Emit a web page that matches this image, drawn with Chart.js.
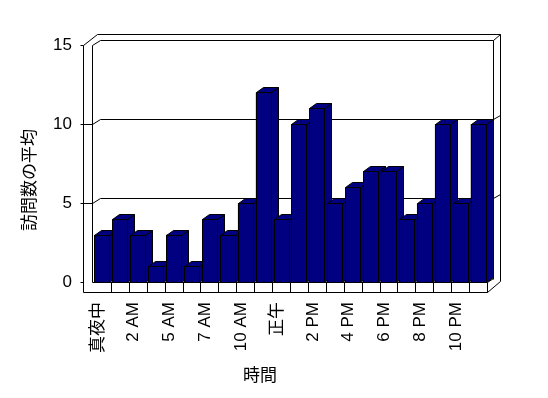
<!DOCTYPE html>
<html><head><meta charset="utf-8">
<script src="https://cdn.jsdelivr.net/npm/chart.js@4"></script>
<style>html,body{margin:0;padding:0;background:#fff}#wrap{width:548px;height:398px}</style>
</head><body><div id="wrap"><canvas id="c" width="548" height="398"></canvas></div>
<script>
const categories = ['真夜中','1 AM','2 AM','4 AM','5 AM','6 AM','7 AM','9 AM','10 AM','11 AM','正午','1 PM','2 PM','3 PM','4 PM','5 PM','6 PM','7 PM','8 PM','9 PM','10 PM','11 PM'];
const visits = [3,4,3,1,3,1,4,3,5,12,4,10,11,5,6,7,7,4,5,10,5,10];
const yTicks = [0,5,10,15];
const yTitle = '訪問数の平均';
const xTitle = '時間';

const FONT = '"Liberation Sans", Arial, "Noto Sans CJK JP", sans-serif';
const DX = 7, DY = -5;

const frame3d = {
  id: 'frame3d',
  beforeDatasetsDraw(chart) {
    const ctx = chart.ctx, a = chart.chartArea, ys = chart.scales.y, xs = chart.scales.x;
    const L = Math.round(a.left), R = Math.round(a.right), T = Math.round(a.top), B = Math.round(a.bottom);
    ctx.save();
    ctx.strokeStyle = '#000'; ctx.lineWidth = 1;
    const line = (x1,y1,x2,y2)=>{ctx.beginPath();ctx.moveTo(x1+0.5,y1+0.5);ctx.lineTo(x2+0.5,y2+0.5);ctx.stroke();};
    // walls
    line(L-10, T, L-10, B+10);   // outer left
    line(L-1, T, L-1, B);        // inner left
    line(L-10, T, L+4, T-11);
    line(L-1, T, L+7, T-5);
    line(L+4, T-11, R+13, T-11); // outer top
    line(L+7, T-5, R+6, T-5);    // inner top
    line(R+6, T-5, R+13, T-11);
    line(R+13, T-11, R+13, B-1); // outer right
    line(R+6, T-5, R+6, B-3);    // inner right
    // gridlines on back wall
    yTicks.forEach(v => {
      if (v === 0 || v === 15) return;
      const y = Math.round(ys.getPixelForValue(v));
      line(L-13, y, L-1, y);
      line(L-1, y, L+7, y-5);
      line(L+7, y-5, R+6, y-5);
      line(R+6, y-5, R+13, y-9);
    });
    // tick marks at front
    [0,15].forEach(v => { const y = Math.round(ys.getPixelForValue(v)); line(L-13, y, L-10, y); });
    // floor
    line(L-10, B+10, R, B+10);
    line(L-1, B, R, B);
    line(R, B, R, B+10);
    line(R, B+10, R+13, B-1);
    line(R, B, R+6, B-4);
    for (let i = 1; i < categories.length; i++) {
      const x = Math.round((xs.getPixelForValue(i-1) + xs.getPixelForValue(i)) / 2);
      line(x, B, x, B+10);
    }
    ctx.restore();
  },
  afterDatasetsDraw(chart) {
    const ctx = chart.ctx;
    const meta = chart.getDatasetMeta(0);
    ctx.save();
    ctx.strokeStyle = '#000'; ctx.lineWidth = 1; ctx.fillStyle = '#000080';
    meta.data.forEach(bar => {
      const p = bar.getProps(['x','y','base','width'], true);
      const l = Math.round(p.x - p.width/2) + 0.5, r = Math.round(p.x + p.width/2) + 0.5;
      const t = Math.round(p.y) + 0.5, b = Math.round(p.base) + 0.5;
      const poly = pts => { ctx.beginPath(); ctx.moveTo(pts[0][0], pts[0][1]); for (let k=1;k<pts.length;k++) ctx.lineTo(pts[k][0], pts[k][1]); ctx.closePath(); ctx.fill(); ctx.stroke(); };
      poly([[r,t],[r+DX,t+DY],[r+DX,b+DY],[r,b]]);
      poly([[l,t],[l+DX,t+DY],[r+DX,t+DY],[r,t]]);
      poly([[l,t],[r,t],[r,b],[l,b]]);
    });
    ctx.restore();
  },
  afterDraw(chart) {
    const ctx = chart.ctx;
    ctx.save();
    ctx.fillStyle = '#000';
    ctx.font = '17px "Noto Sans CJK JP", sans-serif';
    ctx.textAlign = 'center'; ctx.textBaseline = 'middle';
    ctx.fillText(xTitle, 260, 375);
    ctx.translate(29, 180); ctx.rotate(-Math.PI/2);
    ctx.fillText(yTitle, 0, 0);
    ctx.restore();
  }
};

new Chart(document.getElementById('c'), {
  type: 'bar',
  data: { labels: categories, datasets: [{ data: visits, backgroundColor: '#000080', borderColor: '#000', borderWidth: 1, barPercentage: 0.84, categoryPercentage: 1 }] },
  options: {
    responsive: false, animation: false, devicePixelRatio: 1,
    layout: { padding: { top: 45, right: 61, left: 0, bottom: 0 } },
    plugins: { legend: { display: false }, tooltip: { enabled: false } },
    scales: {
      x: {
        grid: { display: false, drawTicks: false }, border: { display: false },
        afterFit: s => { s.height = 116; },
        ticks: { autoSkip: false, minRotation: 90, maxRotation: 90, padding: 20, labelOffset: -4, color: '#000',
          font: { size: 17, family: FONT },
          callback: (v, i) => i % 2 === 0 ? categories[i] : '' }
      },
      y: {
        min: 0, max: 15,
        grid: { display: false, drawTicks: false }, border: { display: false },
        afterFit: s => { s.width = 93; },
        afterBuildTicks: s => { s.ticks = yTicks.map(v => ({ value: v })); },
        ticks: { padding: 21, color: '#000', font: { size: 17, family: FONT } }
      }
    }
  },
  plugins: [frame3d]
});
</script></body></html>
